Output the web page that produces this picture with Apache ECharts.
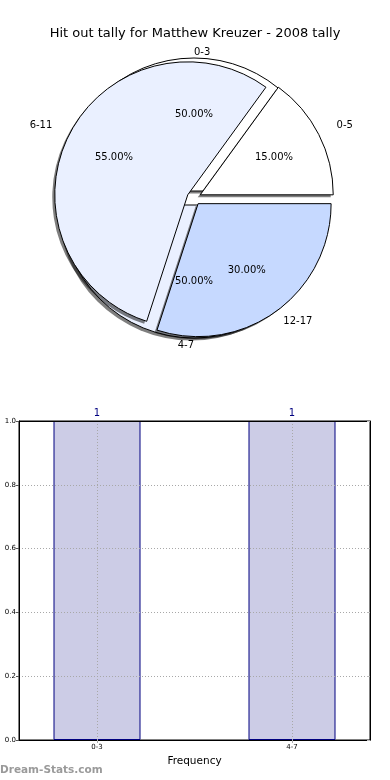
<!DOCTYPE html>
<html><head><meta charset="utf-8">
<script src="https://cdn.jsdelivr.net/npm/echarts@6/dist/echarts.min.js"></script>
<style>html,body{margin:0;padding:0;background:#fff}#c{width:390px;height:780px}</style>
</head><body><div id="c"></div>
<script>
const titleText = 'Hit out tally for Matthew Kreuzer - 2008 tally';
const backCats = ['0-3', '4-7'];
const backVals = [1, 1];
const frontCats = ['0-5', '6-11', '12-17'];
const frontVals = [15, 55, 30];
const barCats = ['0-3', '4-7'];
const barVals = [1, 1];
const yTicks = [0, 0.2, 0.4, 0.6, 0.8, 1.0];

const backColors = ['#ffffff', '#eaf0ff'];
const frontColors = ['#ffffff', '#eaf0ff', '#c6d9ff'];
const backLabelGap = [6, 7];
const frontLabelGap = [20, 19, 12];
const FONT = 'DejaVu Sans';
const C = [194, 198];
const R = 133;
const OFF = 7;
const SH = 2.5;

function pieData(cats, vals, opts) {
  return cats.map((c, i) => {
    const d = { name: c, value: vals[i], selected: true };
    if (opts.colors) d.itemStyle = { color: opts.colors[i] };
    else d.itemStyle = { color: opts.fill || 'rgba(0,0,0,0)' };
    if (opts.gaps) d.labelLine = { show: false, length: opts.gaps[i], length2: 0 };
    return d;
  });
}
function basePie(extra) {
  return Object.assign({
    type: 'pie', center: C, radius: R, startAngle: 0, clockwise: false,
    selectedMode: 'multiple', selectedOffset: OFF, avoidLabelOverlap: false,
    animation: false, silent: true, emphasis: { disabled: true },
    itemStyle: { borderWidth: 0 }, label: { show: false }, labelLine: { show: false }
  }, extra);
}
const outsideLabel = {
  show: true, position: 'outside', formatter: '{b}', color: '#000',
  fontFamily: FONT, fontSize: 10, distanceToLabelLine: 0
};
const insideLabel = {
  show: true, position: 'inside', formatter: p => p.percent.toFixed(2) + '%', color: '#000',
  fontFamily: FONT, fontSize: 10
};
const edge = { borderColor: '#000', borderWidth: 1 };
const shadowFill = 'rgba(0,0,0,0.5)';

const chart = echarts.init(document.getElementById('c'), null, { renderer: 'canvas' });
chart.setOption({
  backgroundColor: '#fff',
  animation: false,
  title: {
    text: titleText, left: 'center', top: 22,
    textStyle: { fontFamily: FONT, fontSize: 13, fontWeight: 'normal', color: '#000' }
  },
  graphic: [{
    type: 'text', left: 0, top: 765,
    style: { text: 'Dream-Stats.com', fill: '#9a9a9a', font: 'bold 10.5px "DejaVu Sans"' }
  }],
  grid: {
    left: 19, right: 20, top: 421, bottom: 40, show: true,
    borderColor: '#000', borderWidth: 1, backgroundColor: '#fff'
  },
  xAxis: [{
    type: 'value', min: -0.4, max: 1.4, z: 10,
    name: 'Frequency', nameLocation: 'middle', nameGap: 16,
    nameTextStyle: { fontFamily: FONT, fontSize: 10.5, color: '#000' },
    axisLine: { show: true, onZero: false, lineStyle: { color: '#000', width: 1 } },
    axisTick: { show: true, customValues: [0, 1], length: 3, lineStyle: { color: '#aaa' } },
    axisLabel: { customValues: [0, 1], formatter: v => barCats[Math.round(v)], fontFamily: FONT, fontSize: 7, color: '#000', margin: 4 },
    splitLine: { show: true, lineStyle: { color: '#a8a8a8', type: [1, 2], width: 1 } }
  }, {
    type: 'value', min: -0.4, max: 1.4, position: 'top', z: 10,
    axisLine: { show: true, onZero: false, lineStyle: { color: '#000' } },
    axisTick: { show: false }, axisLabel: { show: false }, splitLine: { show: false }
  }],
  yAxis: [{
    type: 'value', min: yTicks[0], max: yTicks[yTicks.length - 1], interval: 0.2, z: 10,
    axisLine: { show: true, onZero: false, lineStyle: { color: '#000', width: 1 } },
    axisTick: { show: true, length: 3, lineStyle: { color: '#555' } },
    axisLabel: { formatter: v => v.toFixed(1), fontFamily: FONT, fontSize: 7, color: '#000', margin: 3 },
    splitLine: { show: true, lineStyle: { color: '#a8a8a8', type: [1, 2], width: 1 } }
  }, {
    type: 'value', min: yTicks[0], max: yTicks[yTicks.length - 1], interval: 0.2, position: 'right', z: 10,
    axisLine: { show: true, onZero: false, lineStyle: { color: '#000' } },
    axisTick: { show: true, inside: true, length: 3, lineStyle: { color: '#bbb' } },
    axisLabel: { show: false }, splitLine: { show: false }
  }],
  series: [
    basePie({ name: 'backShadow', center: [C[0] - SH, C[1] + SH], data: pieData(backCats, backVals, { fill: shadowFill }), z: 2 }),
    basePie({ name: 'back', data: pieData(backCats, backVals, { colors: backColors }), itemStyle: edge, z: 2 }),
    basePie({ name: 'frontShadow', center: [C[0] - SH, C[1] + SH], data: pieData(frontCats, frontVals, { fill: shadowFill }), z: 2 }),
    basePie({ name: 'front', data: pieData(frontCats, frontVals, { colors: frontColors }), itemStyle: edge, z: 2 }),
    basePie({ name: 'backOut', data: pieData(backCats, backVals, { gaps: backLabelGap }), z: 5, label: outsideLabel }),
    basePie({ name: 'frontOut', data: pieData(frontCats, frontVals, { gaps: frontLabelGap }), z: 5, label: outsideLabel }),
    basePie({ name: 'backPct', radius: R * 1.1, percentPrecision: 2, data: pieData(backCats, backVals, {}), z: 5, label: insideLabel }),
    basePie({ name: 'frontPct', radius: R * 1.2, percentPrecision: 2, data: pieData(frontCats, frontVals, {}), z: 5, label: insideLabel }),
    {
      type: 'bar', xAxisIndex: 0, yAxisIndex: 0, barWidth: 87, z: 2,
      data: barVals.map((v, i) => [i, v]),
      itemStyle: { color: 'rgba(0,0,128,0.2)', borderColor: '#000080', borderWidth: 1 },
      label: { show: true, position: 'top', distance: 3, color: '#000080', fontFamily: FONT, fontSize: 10 },
      silent: true
    }
  ]
});
</script></body></html>
